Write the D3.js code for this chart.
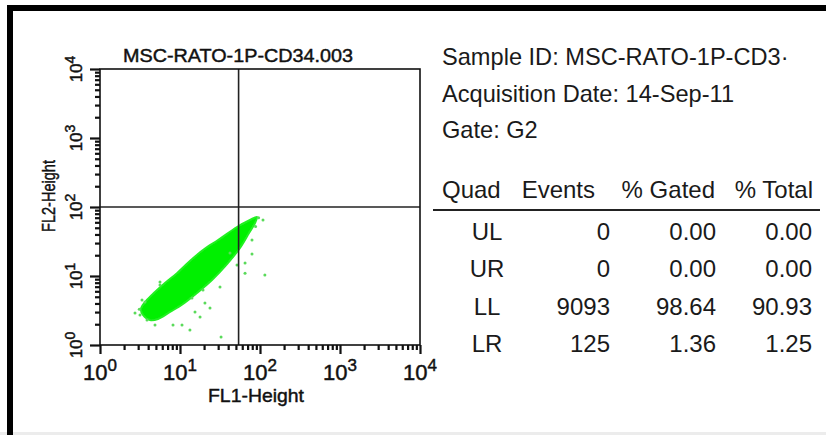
<!DOCTYPE html>
<html>
<head>
<meta charset="utf-8">
<script src="https://cdn.jsdelivr.net/npm/d3@7"></script>
<style>
    body { margin: 0; background: #fff; }
    svg { display: block; }
    text { font-family: Arial, "Liberation Sans", sans-serif; fill: #1a1a1a; }
    .plot-text { fill: #111; stroke: #111; stroke-width: 0.45px; }
</style>
</head>
<body>
<div id="chart"></div>
<script>
// axis decades (log scale) and their exponents
const decades = [1, 10, 100, 1000, 10000];
const decadeExponents = ["0", "1", "2", "3", "4"];

// quadrant gate position [FL1, FL2]
const quadrantGate = [54, 100];

// outline of the dense event cloud [FL1, FL2]
const cloudUpperEdge = [
    [3.25, 3.32], [3.76, 4.34], [4.87, 5.86], [6.49, 7.92], [9.17, 11.0],
    [13.3, 16.5], [19.4, 23.8], [29.9, 33.2], [51.6, 51.3], [75, 64.8], [91.7, 71.6]
];
const cloudLowerEdge = [
    [86.6, 58.6], [72.9, 42], [56.2, 25.5], [38.7, 14.9], [25.1, 8.75],
    [16.3, 5.67], [10.9, 3.93], [7.5, 3.01], [5.31, 2.38], [4.22, 2.3], [3.45, 2.72]
];

// single events scattered around the cloud [FL1, FL2]
const strayEvents = [
    [109, 64.8], [79.4, 20.8], [115, 10.3], [65, 15.4], [51.6, 14.4], [31.6, 6.93],
    [23.7, 3.44], [32.6, 1.31], [10.6, 1.95], [13.3, 1.65], [17.8, 2.55], [15.4, 3.01],
    [2.74, 2.91], [3.16, 2.72], [42.2, 21.5], [19.4, 6.27], [14.1, 4.8], [3.65, 4.2],
    [5.62, 7.41], [20.5, 4.06], [8.18, 1.95], [3.87, 2.3], [4.87, 1.95], [79.4, 33.2],
    [65, 11.0], [5.62, 8.19], [3.35, 4.5], [3.1, 3.3], [96, 70], [88, 52]
];

// stats panel
const plotTitle = "MSC-RATO-1P-CD34.003";
const sampleInfo = ["Sample ID: MSC-RATO-1P-CD3\u00b7", "Acquisition Date: 14-Sep-11", "Gate: G2"];
const tableHeaders = ["Quad", "Events", "% Gated", "% Total"];
const quads = ["UL", "UR", "LL", "LR"];
const events = [0, 0, 9093, 125];
const pctGated = [0.00, 0.00, 98.64, 1.36];
const pctTotal = [0.00, 0.00, 90.93, 1.25];

const W = 826, H = 435;
const box = { left: 100, right: 420, top: 69, bottom: 345 };

const svg = d3.select('#chart')
    .append('svg')
    .attr('width', W)
    .attr('height', H);

// frame of the screenshot
svg.append('rect').attr('x', 0).attr('y', 432).attr('width', W).attr('height', 3).attr('fill', '#ececec');
svg.append('path')
    .attr('d', `M10,${H} L10,8 L${W},8`)
    .attr('fill', 'none')
    .attr('stroke', '#000')
    .attr('stroke-width', 6);

const x = d3.scaleLog().domain([1, 10000]).range([box.left, box.right]);
const y = d3.scaleLog().domain([1, 10000]).range([box.bottom, box.top]);

const isDecade = v => Math.abs(Math.log10(v) - Math.round(Math.log10(v))) < 1e-9;
const minorTicks = x.ticks().filter(v => !isDecade(v));

// ---- ticks (minor + major) ----
const xMinor = svg.append('g')
    .attr('transform', `translate(0, ${box.bottom})`)
    .call(d3.axisBottom(x).tickValues(minorTicks).tickSize(5).tickFormat(''));
const xMajor = svg.append('g')
    .attr('transform', `translate(0, ${box.bottom})`)
    .call(d3.axisBottom(x).tickValues(decades).tickSize(9).tickFormat(''));
const yMinor = svg.append('g')
    .attr('transform', `translate(${box.left}, 0)`)
    .call(d3.axisLeft(y).tickValues(minorTicks).tickSize(5).tickFormat(''));
const yMajor = svg.append('g')
    .attr('transform', `translate(${box.left}, 0)`)
    .call(d3.axisLeft(y).tickValues(decades).tickSize(10).tickFormat(''));

[xMinor, xMajor, yMinor, yMajor].forEach(g => {
    g.select('.domain').remove();
    g.selectAll('line').attr('stroke', '#111').attr('stroke-width', 2.2);
});

// ---- event cloud ----
const defs = svg.append('defs');
defs.append('filter').attr('id', 'soft')
    .append('feGaussianBlur').attr('stdDeviation', 0.7);
defs.append('clipPath').attr('id', 'plotClip')
    .append('rect')
    .attr('x', box.left).attr('y', box.top)
    .attr('width', box.right - box.left).attr('height', box.bottom - box.top);

const plot = svg.append('g').attr('clip-path', 'url(#plotClip)');

const cloudLine = d3.line()
    .x(d => x(d[0]))
    .y(d => y(d[1]))
    .curve(d3.curveCatmullRomClosed.alpha(0.5));

plot.append('path')
    .datum(cloudUpperEdge.concat(cloudLowerEdge))
    .attr('d', cloudLine)
    .attr('fill', '#00f000')
    .attr('stroke', '#22f022')
    .attr('stroke-width', 2)
    .attr('filter', 'url(#soft)');

plot.selectAll('circle.stray')
    .data(strayEvents)
    .enter()
    .append('circle')
    .attr('class', 'stray')
    .attr('cx', d => x(d[0]))
    .attr('cy', d => y(d[1]))
    .attr('r', 1.5)
    .attr('fill', '#5ada5a');

// quadrant lines
svg.append('line')
    .attr('x1', x(quadrantGate[0])).attr('x2', x(quadrantGate[0]))
    .attr('y1', box.top).attr('y2', box.bottom)
    .attr('stroke', '#222').attr('stroke-width', 1.6);
svg.append('line')
    .attr('x1', box.left).attr('x2', box.right)
    .attr('y1', y(quadrantGate[1])).attr('y2', y(quadrantGate[1]))
    .attr('stroke', '#222').attr('stroke-width', 1.6);

// plot frame
svg.append('rect')
    .attr('x', box.left).attr('y', box.top)
    .attr('width', box.right - box.left).attr('height', box.bottom - box.top)
    .attr('fill', 'none')
    .attr('stroke', '#111')
    .attr('stroke-width', 1.6);

// ---- tick labels 10^n ----
const xLabels = svg.append('g').selectAll('text')
    .data(decades)
    .enter()
    .append('text')
    .attr('class', 'plot-text')
    .attr('x', d => x(d))
    .attr('y', 380)
    .attr('text-anchor', 'middle')
    .attr('font-size', 22);
xLabels.append('tspan').text('10');
xLabels.append('tspan')
    .attr('dy', -9)
    .attr('font-size', 17)
    .text((d, i) => decadeExponents[i]);

const yLabels = svg.append('g').selectAll('text')
    .data(decades)
    .enter()
    .append('text')
    .attr('class', 'plot-text')
    .attr('transform', d => `translate(82, ${y(d)}) rotate(-90)`)
    .attr('text-anchor', 'middle')
    .attr('font-size', 17);
yLabels.append('tspan').text('10');
yLabels.append('tspan')
    .attr('dy', -7)
    .attr('font-size', 14)
    .text((d, i) => decadeExponents[i]);

// ---- titles ----
svg.append('text')
    .attr('class', 'plot-text')
    .attr('x', 123)
    .attr('y', 62)
    .attr('font-size', 19)
    .attr('textLength', 230)
    .attr('lengthAdjust', 'spacingAndGlyphs')
    .text(plotTitle);

svg.append('text')
    .attr('class', 'plot-text')
    .attr('x', 256)
    .attr('y', 402)
    .attr('text-anchor', 'middle')
    .attr('font-size', 19)
    .attr('textLength', 96)
    .attr('lengthAdjust', 'spacingAndGlyphs')
    .text('FL1-Height');

svg.append('text')
    .attr('class', 'plot-text')
    .attr('transform', 'translate(55, 196) rotate(-90)')
    .attr('text-anchor', 'middle')
    .attr('font-size', 19)
    .attr('textLength', 72)
    .attr('lengthAdjust', 'spacingAndGlyphs')
    .text('FL2-Height');

// ---- stats panel ----
svg.append('g')
    .selectAll('text')
    .data(sampleInfo)
    .enter()
    .append('text')
    .attr('x', 442)
    .attr('y', (d, i) => 65 + i * 36.5)
    .attr('font-size', 23.6)
    .text(d => d);

const colRight = [null, 595, 715, 813];
svg.append('g').selectAll('text')
    .data(tableHeaders)
    .enter()
    .append('text')
    .attr('x', (d, i) => i === 0 ? 442 : colRight[i])
    .attr('y', 198)
    .attr('text-anchor', (d, i) => i === 0 ? 'start' : 'end')
    .attr('font-size', 24)
    .text(d => d);

svg.append('line')
    .attr('x1', 433).attr('x2', 820)
    .attr('y1', 210).attr('y2', 210)
    .attr('stroke', '#222').attr('stroke-width', 2);

const rowY = d3.scalePoint().domain(quads).range([240, 352]);
const rows = svg.append('g').selectAll('g')
    .data(quads)
    .enter()
    .append('g')
    .attr('transform', d => `translate(0, ${rowY(d)})`);

rows.append('text').attr('x', 487).attr('text-anchor', 'middle').attr('font-size', 24).text(d => d);
rows.append('text').attr('x', 610).attr('text-anchor', 'end').attr('font-size', 24).text((d, i) => events[i]);
rows.append('text').attr('x', 716).attr('text-anchor', 'end').attr('font-size', 24).text((d, i) => pctGated[i].toFixed(2));
rows.append('text').attr('x', 812).attr('text-anchor', 'end').attr('font-size', 24).text((d, i) => pctTotal[i].toFixed(2));
</script>
</body>
</html>
